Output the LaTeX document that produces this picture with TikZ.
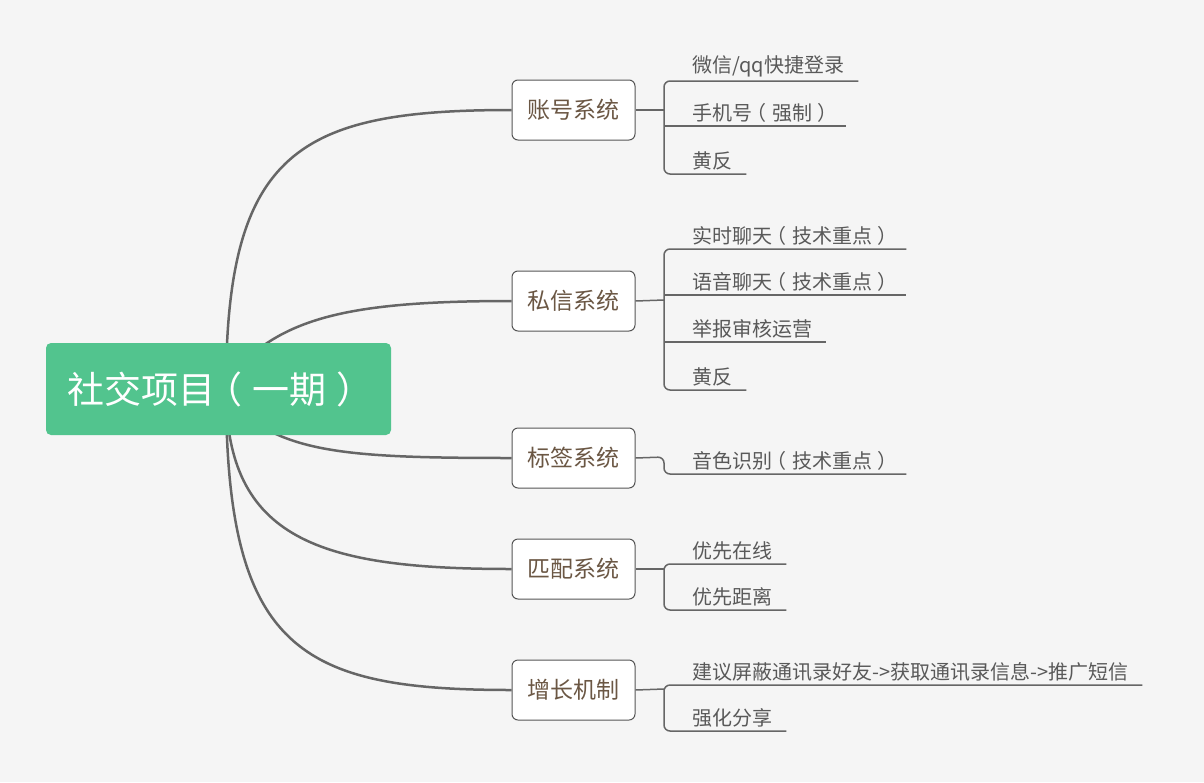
\documentclass[tikz,border=0pt]{standalone}
\usepackage{fontspec}
\newfontfamily\cjk{Noto Sans CJK SC}
\definecolor{bg}{HTML}{F5F5F5}
\definecolor{rootgreen}{HTML}{52C48E}
\definecolor{linegray}{HTML}{666666}
\definecolor{boxedge}{HTML}{555555}
\definecolor{branchtext}{HTML}{6B5744}
\definecolor{leaftext}{HTML}{595959}
% full-width brackets with the glyph centred in its em box
\newcommand\lpar{\kern-0.28em（\kern0.28em}
\newcommand\rpar{\kern0.28em）\kern-0.28em}
\begin{document}
\begin{tikzpicture}[x=1pt,y=1pt,
  rootbox/.style={rectangle, rounded corners=5pt, fill=rootgreen, text=white,
    minimum width=345pt, minimum height=92pt, inner sep=0pt,
    font=\cjk\fontsize{37}{40}\selectfont},
  branchbox/.style={rectangle, rounded corners=6pt, draw=boxedge, line width=1pt,
    fill=white, text=branchtext, minimum width=123pt, minimum height=60pt,
    inner sep=0pt, font=\cjk\fontsize{23}{26}\selectfont},
  leaf/.style={anchor=south west, inner xsep=14pt, inner ysep=3.5pt, text=leaftext,
    font=\cjk\fontsize{20}{24}\selectfont},
  trunk/.style={draw=linegray, line width=2.5pt},
  twig/.style={draw=linegray, line width=1.5pt, rounded corners=6pt}]
\fill[bg] (0,0) rectangle (1204,-782);
\useasboundingbox (0,0) rectangle (1204,-782);

% branch boxes
\node[branchbox] (A) at (573.5,-110) {账号系统};
\node[branchbox] (B) at (573.5,-301) {私信系统};
\node[branchbox] (C) at (573.5,-458) {标签系统};
\node[branchbox] (D) at (573.5,-569) {匹配系统};
\node[branchbox] (E) at (573.5,-690) {增长机制};

% root anchor for the curved trunks
\coordinate (r) at (218.5,-389);
\coordinate (rl) at (226,-389);
\draw[trunk] (rl) .. controls (226,-150) and (300,-110) .. (A.west);
\draw[trunk] (r) .. controls (272,-322) and (330,-301) .. (B.west);
\draw[trunk] (r) .. controls (272,-452) and (330,-458) .. (C.west);
\draw[trunk] (rl) .. controls (226,-540) and (320,-569) .. (D.west);
\draw[trunk] (rl) .. controls (226,-650) and (300,-690) .. (E.west);

\node[rootbox] (root) at (218.5,-389) {\hspace*{-6pt}社交项目\lpar 一期\rpar};

% leaves
\node[leaf] (a1) at (678,-81) {微信/qq快捷登录};
\node[leaf] (a2) at (678,-126) {手机号\lpar 强制\rpar};
\node[leaf] (a3) at (678,-174) {黄反};

\node[leaf] (b1) at (678,-249) {实时聊天\lpar 技术重点\rpar};
\node[leaf] (b2) at (678,-295) {语音聊天\lpar 技术重点\rpar};
\node[leaf] (b3) at (678,-342) {举报审核运营};
\node[leaf] (b4) at (678,-390) {黄反};

\node[leaf] (c1) at (678,-474) {音色识别\lpar 技术重点\rpar};

\node[leaf] (d1) at (678,-564) {优先在线};
\node[leaf] (d2) at (678,-610) {优先距离};

\node[leaf] (e1) at (678,-685) {建议屏蔽通讯录好友->获取通讯录信息->推广短信};
\node[leaf] (e2) at (678,-731) {强化分享};

% brackets
\coordinate (kA) at (664,-110);
\coordinate (kB) at (664,-300);
\coordinate (kC) at (664,-457);
\coordinate (kD) at (664,-569);
\coordinate (kE) at (664,-689);

\draw[twig] (A.east) -- (kA);
\draw[twig] (a1.south east) -- (a1.south west -| kA) -- (a3.south west -| kA) -- (a3.south east);
\draw[twig] (a2.south west -| kA) -- (a2.south east);

\draw[twig] (B.east) -- (kB);
\draw[twig] (b1.south east) -- (b1.south west -| kB) -- (b4.south west -| kB) -- (b4.south east);
\draw[twig] (b2.south west -| kB) -- (b2.south east);
\draw[twig] (b3.south west -| kB) -- (b3.south east);

\draw[twig] (C.east) -- (kC) |- (c1.south east);

\draw[twig] (D.east) -- (kD);
\draw[twig] (d1.south east) -- (d1.south west -| kD) -- (d2.south west -| kD) -- (d2.south east);

\draw[twig] (E.east) -- (kE);
\draw[twig] (e1.south east) -- (e1.south west -| kE) -- (e2.south west -| kE) -- (e2.south east);
\end{tikzpicture}
\end{document}
